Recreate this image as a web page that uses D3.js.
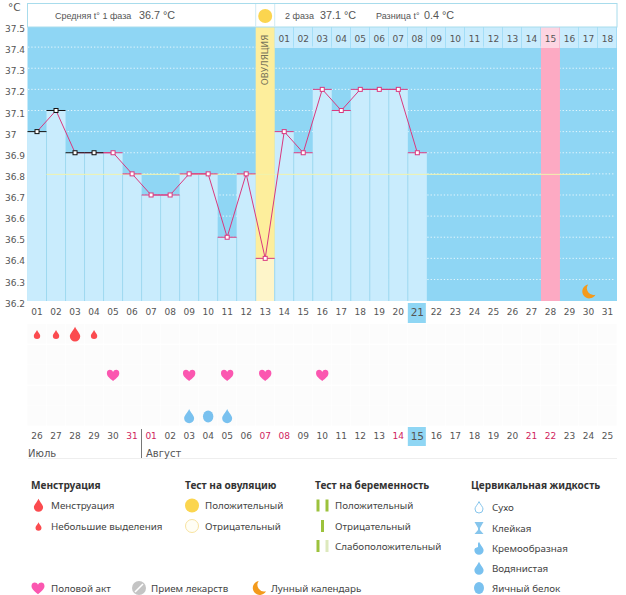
<!DOCTYPE html>
<html>
<head>
<meta charset="utf-8">
<style>
  html, body { margin: 0; padding: 0; background: #fff; }
  svg { display: block; }
  text { font-family: "DejaVu Sans", sans-serif; fill: #555; }
  .legend text { font-family: "Noto Sans", sans-serif; font-size: 9.8px; fill: #444; }
  .legend .title { font-size: 10.1px; font-weight: 700; fill: #333; }
</style>
<script src="https://cdnjs.cloudflare.com/ajax/libs/d3/7.8.5/d3.min.js"></script>
</head>
<body>
<svg id="chart" width="626" height="595"></svg>
<script>
// chart values
const days = d3.range(1, 32);
const temps = [37.0, 37.1, 36.9, 36.9, 36.9, 36.8, 36.7, 36.7, 36.8, 36.8, 36.5, 36.8, 36.4,
               37.0, 36.9, 37.2, 37.1, 37.2, 37.2, 37.2, 36.9];
const tempTicks = [36.2, 36.3, 36.4, 36.5, 36.6, 36.7, 36.8, 36.9, 37, 37.1, 37.2, 37.3, 37.4, 37.5];
const blackDays = [1, 2, 3, 4];
const coverTemp = 36.8;
const ovulationDay = 13;
const expectedDay = 28;
const moonDay = 30;
const todayDay = 21;
const calendarDays = ["26","27","28","29","30","31","01","02","03","04","05","06","07","08","09","10",
                      "11","12","13","14","15","16","17","18","19","20","21","22","23","24","25"];
const redCalendar = [6, 7, 13, 14, 20, 27, 28]; // cycle days with a red date
const phaseDays = ["01","02","03","04","05","06","07","08","09","10","11","12","13","14","15","16","17","18"];
const bigDropDays = [3];
const smallDropDays = [1, 2, 4];
const heartDays = [5, 9, 11, 13, 16];
const waterDays = [9, 11];
const eggDays = [10];

const svg = d3.select("#chart");

const x = d3.scaleBand().domain(days).range([27.5, 617]);
const y = d3.scaleLinear().domain([36.2, 37.5]).range([300.6, 26]);
const plotTop = 27;
const plotBottom = 301;
const cw = x.bandwidth();
const cx = d => x(d) + cw / 2;

// icon paths, r is roughly the half width
function dropPath(r) {
    return `M0,${-r * 1.6} C${r * 0.35},${-r * 0.8} ${r},${-r * 0.3} ${r},${r * 0.25}`
        + ` A${r},${r} 0 1 1 ${-r},${r * 0.25} C${-r},${-r * 0.3} ${-r * 0.35},${-r * 0.8} 0,${-r * 1.6} Z`;
}
function heartPath(r) {
    return `M0,${r * 0.95} C${-r * 0.5},${r * 0.55} ${-r},${r * 0.2} ${-r},${-r * 0.3}`
        + ` C${-r},${-r * 0.95} ${-r * 0.2},${-r} 0,${-r * 0.5}`
        + ` C${r * 0.2},${-r} ${r},${-r * 0.95} ${r},${-r * 0.3}`
        + ` C${r},${r * 0.2} ${r * 0.5},${r * 0.55} 0,${r * 0.95} Z`;
}
function moonPath(r) {
    return `M${-r * 0.05},${-r} A${r},${r} 0 1 0 ${r},${r * 0.45}`
        + ` A${r * 0.95},${r * 0.95} 0 0 1 ${-r * 0.05},${-r} Z`;
}

// background
svg.append("rect").attr("x", 27.5).attr("y", plotTop).attr("width", 589.5).attr("height", plotBottom - plotTop).attr("fill", "#8fd6f4");

// dotted grid
svg.append("g").selectAll("line").data(tempTicks.slice(1, -1)).join("line")
    .attr("x1", 28).attr("x2", 615)
    .attr("y1", d => y(d)).attr("y2", d => y(d))
    .attr("stroke", "#e4f6fd").attr("stroke-dasharray", "1.3 2");

// pink expected column
svg.append("rect").attr("x", x(expectedDay)).attr("y", plotTop).attr("width", cw).attr("height", plotBottom - plotTop).attr("fill", "#fdaac3");

// bars under the temperature
svg.append("g").selectAll("rect").data(temps).join("rect")
    .attr("x", (d, i) => x(days[i]))
    .attr("y", d => y(d))
    .attr("width", cw)
    .attr("height", d => plotBottom - y(d))
    .attr("fill", (d, i) => days[i] == ovulationDay ? "#fef5c9" : "#c9ecfd");
svg.append("g").selectAll("line").data(days.slice(1, 21)).join("line")
    .attr("x1", d => x(d)).attr("x2", d => x(d))
    .attr("y1", d => y(Math.min(temps[d - 1], temps[d - 2]))).attr("y2", plotBottom)
    .attr("stroke", "#9fd9f0");

// ovulation column
svg.append("rect").attr("x", x(ovulationDay)).attr("y", plotTop).attr("width", cw)
    .attr("height", y(temps[ovulationDay - 1]) - plotTop).attr("fill", "#fdee9c");
svg.append("text")
    .attr("transform", `translate(${cx(ovulationDay) + 3},60) rotate(-90)`)
    .attr("text-anchor", "middle").attr("font-size", 8.8).style("fill", "#77735a")
    .text("ОВУЛЯЦИЯ");

// phase day strip
const strip = svg.append("g").selectAll("g").data(phaseDays).join("g")
    .attr("transform", (d, i) => `translate(${x(ovulationDay + 1 + i)},${plotTop})`);
strip.append("rect").attr("width", cw - 0.6).attr("height", 21)
    .attr("fill", (d, i) => ovulationDay + 1 + i == expectedDay ? "#fdd5e2" : "#c9ecfd");
strip.append("text").attr("x", cw / 2).attr("y", 14.5).attr("text-anchor", "middle").attr("font-size", 9).text(d => d);

// cover line
svg.append("line").attr("x1", x(2)).attr("x2", 590)
    .attr("y1", y(coverTemp) + 0.5).attr("y2", y(coverTemp) + 0.5)
    .attr("stroke", "#f0f3ae").attr("stroke-width", 1);

// moon
svg.append("path").attr("d", moonPath(7)).attr("transform", `translate(${cx(moonDay)},${y(36.3) + 12})`).attr("fill", "#f39a1c");

// temperature line and markers
const line = d3.line().x((d, i) => cx(days[i])).y(d => y(d));
svg.append("path").attr("d", line(temps)).attr("fill", "none").attr("stroke", "#d9397f").attr("stroke-width", 1);
const markers = svg.append("g").selectAll("g").data(temps).join("g")
    .attr("transform", (d, i) => `translate(${cx(days[i])},${y(d)})`);
const markColor = (d, i) => blackDays.includes(days[i]) ? "#111" : "#d9397f";
markers.append("line").attr("x1", -cw / 2).attr("x2", cw / 2).attr("stroke", markColor);
markers.append("rect").attr("x", -2).attr("y", -2).attr("width", 4).attr("height", 4)
    .attr("fill", "#fff").attr("stroke", markColor).attr("stroke-width", 1);

// y axis
const yAxis = d3.axisLeft(y).tickValues(tempTicks).tickSize(0).tickFormat(d => +d.toFixed(1));
const gy = svg.append("g").attr("transform", "translate(27,0)").call(yAxis);
gy.select(".domain").remove();
gy.selectAll("text").attr("x", -22).attr("dy", "0.9em").attr("y", -2.5)
    .style("text-anchor", "start").style("font-family", "'DejaVu Sans'").style("font-size", "9px").style("fill", "#555");
svg.append("text").attr("x", 8).attr("y", 11).attr("font-size", 10.5).text("°C");

// header
svg.append("rect").attr("x", 27.5).attr("y", 3.5).attr("width", 589.5).attr("height", 23.5).attr("fill", "#fff").attr("stroke", "#a8dcec");
[x(ovulationDay), x(ovulationDay + 1)].forEach(v => {
    svg.append("line").attr("x1", v).attr("x2", v).attr("y1", 4).attr("y2", 27).attr("stroke", "#cfeaf4");
});
svg.append("circle").attr("cx", cx(ovulationDay)).attr("cy", 16).attr("r", 7).attr("fill", "#fbd54f");
[["Средняя t° 1 фаза", 55, 9], ["36.7 °C", 139, 10.8], ["2 фаза", 285, 9], ["37.1 °C", 320, 10.8],
 ["Разница t°", 376, 9], ["0.4 °C", 424, 10.8]].forEach(h => {
    svg.append("text").attr("x", h[1]).attr("y", 19).attr("font-size", h[2])
        .style("font-family", "'Liberation Sans'").text(h[0]);
});

// day axis under the plot
const xAxis = d3.axisBottom(x).tickSize(0).tickFormat(d3.format("02"));
svg.append("rect").attr("x", x(todayDay)).attr("y", 303).attr("width", cw - 1).attr("height", 20).attr("fill", "#8fd6f4");
const gx = svg.append("g").attr("transform", "translate(0,303)").call(xAxis);
gx.select(".domain").remove();
gx.selectAll("text").attr("y", 6).attr("dy", "0.71em")
    .style("font-family", "'DejaVu Sans'").style("font-size", d => d == todayDay ? "10.5px" : "9px").style("fill", "#555");

// symptom grid
const rowY = [334, 355, 375, 396, 416];
const cells = [];
rowY.forEach(r => days.forEach(d => cells.push({ r, d })));
svg.append("g").selectAll("rect").data(cells).join("rect")
    .attr("x", d => x(d.d)).attr("y", d => d.r - 10).attr("width", cw - 0.5).attr("height", 19.5).attr("fill", "#fcfcfc");

svg.append("g").selectAll("path").data(smallDropDays).join("path")
    .attr("d", dropPath(3.2)).attr("transform", d => `translate(${cx(d)},335)`).attr("fill", "#fb4b4f");
svg.append("g").selectAll("path").data(bigDropDays).join("path")
    .attr("d", dropPath(5.2)).attr("transform", d => `translate(${cx(d)},335)`).attr("fill", "#fb4b4f");
svg.append("g").selectAll("path").data(heartDays).join("path")
    .attr("d", heartPath(6.2)).attr("transform", d => `translate(${cx(d)},375)`).attr("fill", "#fb57b0");
svg.append("g").selectAll("path").data(waterDays).join("path")
    .attr("d", dropPath(5)).attr("transform", d => `translate(${cx(d)},417)`).attr("fill", "#79c1ef");
svg.append("g").selectAll("ellipse").data(eggDays).join("ellipse")
    .attr("cx", d => cx(d)).attr("cy", 416.5).attr("rx", 5.2).attr("ry", 6).attr("fill", "#79c1ef");

// calendar dates
const xCal = d3.scaleBand().domain(calendarDays.map((d, i) => i + 1)).range([27.5, 617]);
svg.append("rect").attr("x", x(todayDay)).attr("y", 427).attr("width", cw - 1).attr("height", 19).attr("fill", "#8fd6f4");
const gc = svg.append("g").attr("transform", "translate(0,433)")
    .call(d3.axisBottom(xCal).tickSize(0).tickFormat(d => calendarDays[d - 1]));
gc.select(".domain").remove();
gc.selectAll("text").attr("y", 0).attr("dy", "0.71em")
    .style("font-family", "'DejaVu Sans'")
    .style("font-size", d => d == todayDay ? "10.5px" : "9px")
    .style("fill", d => redCalendar.includes(d) ? "#d0245e" : "#555");

svg.append("line").attr("x1", 28).attr("x2", 617).attr("y1", 458.5).attr("y2", 458.5).attr("stroke", "#eee");
svg.append("line").attr("x1", 141.5).attr("x2", 141.5).attr("y1", 429).attr("y2", 458).attr("stroke", "#777");
svg.append("text").attr("x", 28).attr("y", 457).attr("font-size", 10).text("Июль");
svg.append("text").attr("x", 146).attr("y", 457).attr("font-size", 10).text("Август");

// legend
const legend = svg.append("g").attr("class", "legend");
function label(px, py, s, cls) {
    legend.append("text").attr("class", cls || null).attr("x", px).attr("y", py + 3.5).text(s);
}
function icon(d, px, py, fill) {
    legend.append("path").attr("d", d).attr("transform", `translate(${px},${py})`).attr("fill", fill);
}
function bar(px, py, fill) {
    legend.append("rect").attr("x", px).attr("y", py - 6).attr("width", 3).attr("height", 12).attr("fill", fill);
}

label(31, 485.5, "Менструация", "title");
icon(dropPath(4.6), 38.5, 506, "#fb4b4f");
label(51, 505.5, "Менструация");
icon(dropPath(3), 38.5, 527, "#fb4b4f");
label(51, 526, "Небольшие выделения");

label(185, 485.5, "Тест на овуляцию", "title");
legend.append("circle").attr("cx", 192).attr("cy", 505.5).attr("r", 7).attr("fill", "#fbd54f");
label(205, 505.5, "Положительный");
legend.append("circle").attr("cx", 192).attr("cy", 526).attr("r", 6.5).attr("fill", "#fffef5").attr("stroke", "#f8e3a0");
label(205, 526, "Отрицательный");

label(315, 485.5, "Тест на беременность", "title");
bar(316.5, 505.5, "#9cc23c"); bar(325.5, 505.5, "#9cc23c");
label(335, 505.5, "Положительный");
bar(321, 526, "#9cc23c");
label(335, 526, "Отрицательный");
bar(316.5, 546, "#9cc23c"); bar(325.5, 546, "#dde9bd");
label(335, 546, "Слабоположительный");

label(471, 485.5, "Цервикальная жидкость", "title");
legend.append("path").attr("d", dropPath(4)).attr("transform", "translate(479,508)").attr("fill", "#fff").attr("stroke", "#86c5ec");
label(492, 507.5, "Сухо");
legend.append("path").attr("d", "M-4.5,-6 L4.5,-6 L1,0 L1,2 L4.5,6 L-4.5,6 L-1,2 L-1,0 Z").attr("transform", "translate(479,528)").attr("fill", "#86c5ec");
label(492, 528, "Клейкая");
icon(dropPath(4.6), 479, 549, "#79c1ef");
legend.append("path").attr("d", "M-6,-6 L-1,-6 L-1,-2 L-6,0 Z").attr("transform", "translate(479,549)").attr("fill", "#fff");
label(492, 548, "Кремообразная");
icon(dropPath(4.6), 479, 569, "#79c1ef");
label(492, 568, "Водянистая");
legend.append("ellipse").attr("cx", 479).attr("cy", 588).attr("rx", 5).attr("ry", 6).attr("fill", "#79c1ef");
label(492, 588, "Яичный белок");

icon(heartPath(6.5), 38, 588, "#fb57b0");
label(51, 588, "Половой акт");
legend.append("circle").attr("cx", 139).attr("cy", 588).attr("r", 7).attr("fill", "#c4c4c4");
legend.append("line").attr("x1", 135).attr("y1", 592).attr("x2", 143).attr("y2", 584).attr("stroke", "#fff").attr("stroke-width", 1.6);
label(151, 588, "Прием лекарств");
icon(moonPath(7), 259, 588, "#f39a1c");
label(271, 588, "Лунный календарь");
</script>
</body>
</html>
